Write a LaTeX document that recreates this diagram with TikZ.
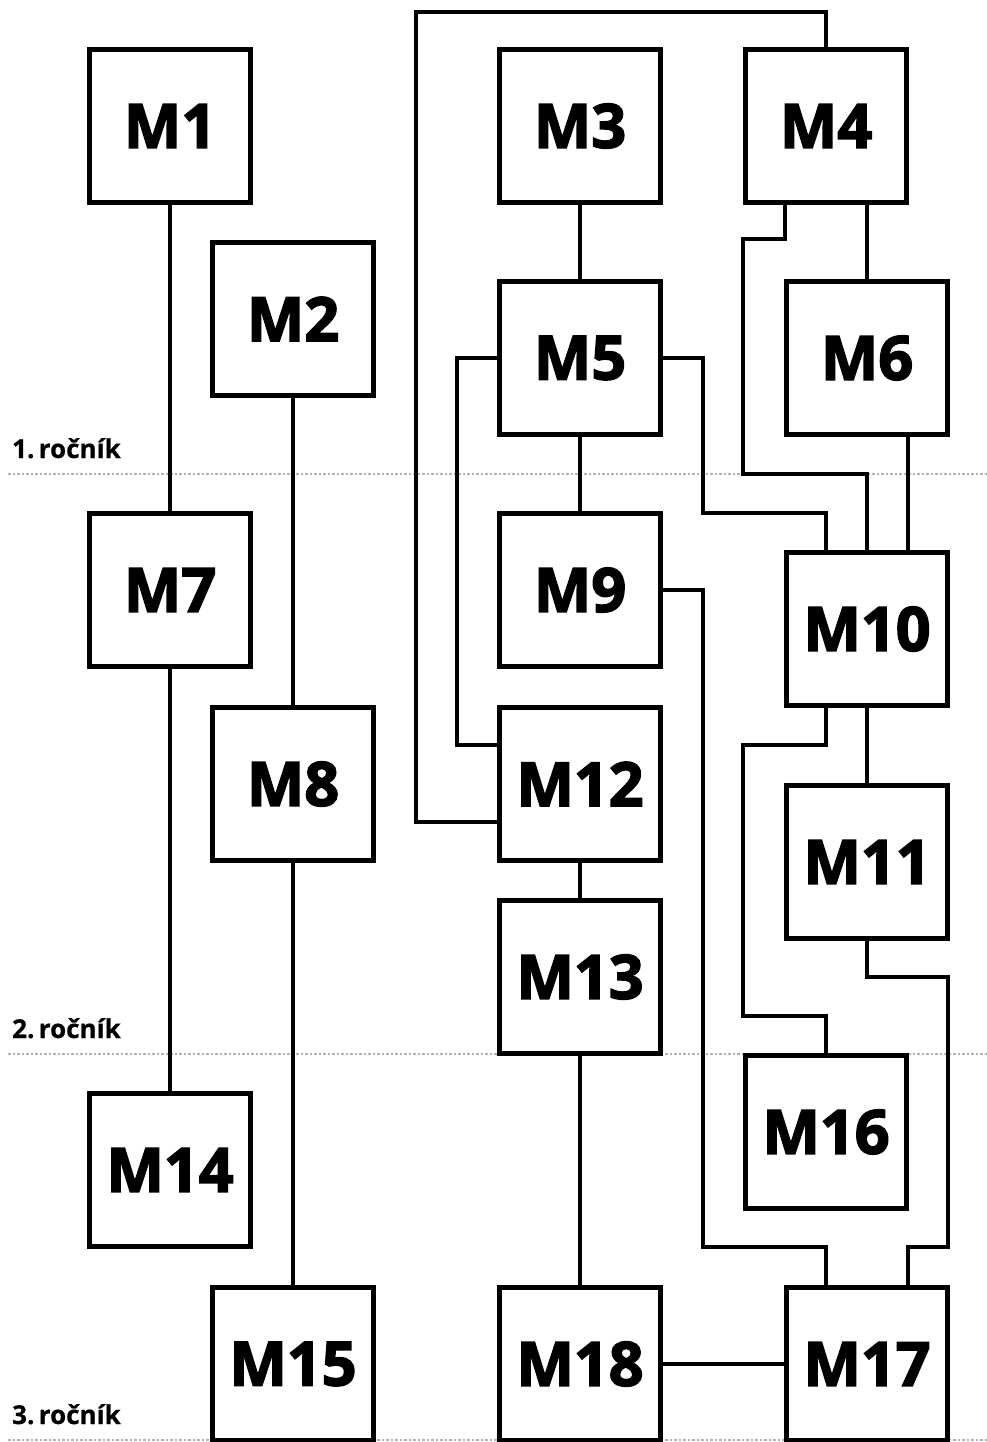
\documentclass[tikz,border=0pt]{standalone}
\usepackage{fontspec}
\setmainfont{Open Sans}
\newfontfamily\boxfont{Open Sans}[BoldFeatures={FakeBold=2.6}]
\newfontfamily\lvlfont{Open Sans}[BoldFeatures={FakeBold=0.6}]
\begin{document}
\begin{tikzpicture}[x=1pt,y=-1pt,
  mbox/.style={draw=black,line width=4.5pt,fill=white,minimum width=161pt,minimum height=153pt,inner sep=0pt,outer sep=0pt,font=\boxfont\bfseries\fontsize{61}{61}\selectfont},
  conn/.style={draw=black,line width=4pt,line cap=rect},
  level/.style={draw=gray!60,line width=2pt,dash pattern=on 2.5pt off 2pt},
  lvltext/.style={anchor=base west,inner sep=0pt,font=\lvlfont\bfseries\fontsize{26}{26}\selectfont}]
\fill[white] (0,0) rectangle (987,1442);
\useasboundingbox (0,0) rectangle (987,1442);
% level lines
\coordinate (L1a) at (8,474); \coordinate (L1b) at (987,474);
\coordinate (L2a) at (8,1054); \coordinate (L2b) at (987,1054);
\coordinate (L3a) at (8,1440); \coordinate (L3b) at (987,1440);
\draw[level] (L1a) -- (L1b);
\draw[level] (L2a) -- (L2b);
\draw[level] (L3a) -- (L3b);
\node[lvltext] (t1) at (12,458) {1.\,ročník};
\node[lvltext] (t2) at (12,1038) {2.\,ročník};
\node[lvltext] (t3) at (12,1424) {3.\,ročník};
% boxes
\node[mbox] (M1) at (170,126) {M1};
\node[mbox] (M2) at (293,319) {M2};
\node[mbox] (M3) at (580,126) {M3};
\node[mbox] (M4) at (826,126) {M4};
\node[mbox] (M5) at (580,358) {M5};
\node[mbox] (M6) at (867,358) {M6};
\node[mbox] (M7) at (170,590) {M7};
\node[mbox] (M8) at (293,784) {M8};
\node[mbox] (M9) at (580,590) {M9};
\node[mbox] (M10) at (867,629) {M10};
\node[mbox] (M11) at (867,862) {M11};
\node[mbox] (M12) at (580,784) {M12};
\node[mbox] (M13) at (580,977) {M13};
\node[mbox] (M14) at (170,1170) {M14};
\node[mbox] (M15) at (293,1364) {M15};
\node[mbox] (M16) at (826,1132) {M16};
\node[mbox] (M17) at (867,1364) {M17};
\node[mbox] (M18) at (580,1364) {M18};
% connectors
\draw[conn] (M1.south) -- (M7.north);
\draw[conn] (M7.south) -- (M14.north);
\draw[conn] (M2.south) -- (M8.north);
\draw[conn] (M8.south) -- (M15.north);
\draw[conn] (M3.south) -- (M5.north);
\draw[conn] (M5.south) -- (M9.north);
\draw[conn] (M12.south) -- (M13.north);
\draw[conn] (M13.south) -- (M18.north);
\draw[conn] (M18.east) -- (M17.west);
\draw[conn] (M10.south) -- (M11.north);
\draw[conn] ([xshift=41pt]M4.south) -- (M6.north);
\draw[conn] ([xshift=41pt]M6.south) -- ([xshift=41pt]M10.north);
\draw[conn] (M4.north) |- (416,12) |- ([yshift=-38pt]M12.west);
\draw[conn] (M5.west) -| (457,745) -- ([yshift=39pt]M12.west);
\draw[conn] ([xshift=-41pt]M4.south) -- ++(0,36) -| (743,474) -| (M10.north);
\draw[conn] (M5.east) -| (703,513) -| ([xshift=-41pt]M10.north);
\draw[conn] (M9.east) -| (703,1247) -| ([xshift=-41pt]M17.north);
\draw[conn] ([xshift=-41pt]M10.south) |- (743,745) |- (826,1016) -- (M16.north);
\draw[conn] (M11.south) |- (948,977) -- (948,1247) -| ([xshift=41pt]M17.north);
\end{tikzpicture}
\end{document}
